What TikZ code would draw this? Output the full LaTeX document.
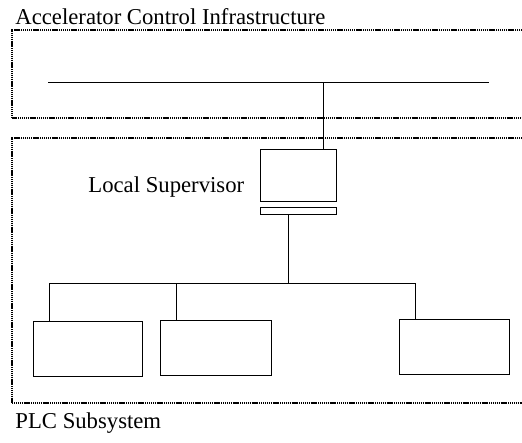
\documentclass[tikz,border=0pt]{standalone}
\usepackage{fontspec}
\setmainfont{Liberation Serif}
\usetikzlibrary{positioning}

\tikzset{
  frame/.style={line width=1.3pt,dash pattern=on 1.2pt off 0.7pt},
  unit/.style={draw,line width=0.9pt,inner sep=0pt,minimum width=109pt,minimum height=55pt},
  label/.style={anchor=base west,inner sep=0pt}
}

\begin{document}
\begin{tikzpicture}[x=1pt,y=-1pt,line width=0.9pt,font=\fontsize{22.7}{27}\selectfont]
\useasboundingbox (0,0) rectangle (522,442);

% the two dotted areas
\draw[frame] (522,30) -- (12,30) -- (12,118) -- (522,118);
\draw[frame] (522,138) -- (12,138) -- (12,403) -- (522,403);
\node[label] (aci) at (15,24) {Accelerator Control Infrastructure};
\node[label] (plcs) at (15,428) {PLC Subsystem};

% control network
\coordinate (netL) at (48,82);
\coordinate (netR) at (489,82);
\coordinate (tap) at (323,82);
\draw (netL) -- (netR);

% local supervisor
\node[unit,minimum width=76pt,minimum height=52pt] (sup) at (298,175) {};
\node[unit,minimum width=76pt,minimum height=7pt] (card) at (298,210.5) {};
\node[label] (suplab) at (88,192) {Local Supervisor};
\draw (tap) -- (tap |- sup.north);

% plc fieldbus
\coordinate (busL) at (49,283);
\coordinate (busM) at (176,283);
\coordinate (busR) at (415,283);
\coordinate (hub) at (288,283);
\draw (card.south -| hub) -- (hub);
\draw (busL) -- (busR);

\node[unit] (plc1) at (87.5,348.5) {};
\node[unit,minimum width=111pt] (plc2) at (215.5,347.5) {};
\node[unit,minimum width=110pt] (plc3) at (454,346.5) {};

\draw (busL) -- (busL |- plc1.north);
\draw (busM) -- (busM |- plc2.north);
\draw (busR) -- (busR |- plc3.north);

\end{tikzpicture}
\end{document}
